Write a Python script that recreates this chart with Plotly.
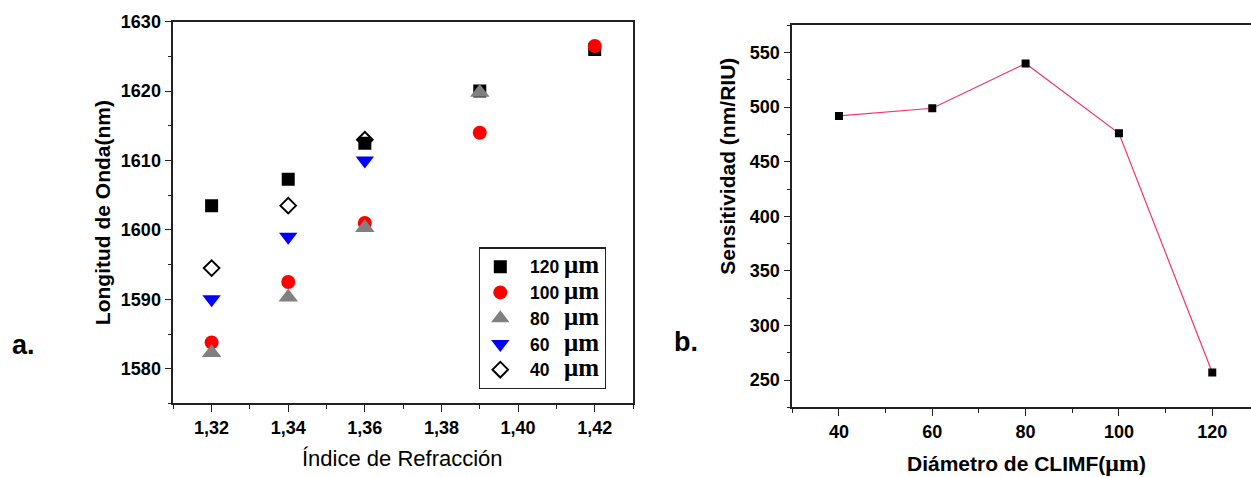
import plotly.graph_objects as go

# ---------------- data (panel a) ----------------
indice = [1.32, 1.34, 1.36, 1.39, 1.42]
onda_120 = [1603.5, 1607.3, 1612.5, 1620.0, 1626.0]
onda_100 = [1583.8, 1592.5, 1601.0, 1614.0, 1626.5]
onda_80_x = [1.32, 1.34, 1.36, 1.39]
onda_80 = [1582.3, 1590.3, 1600.3, 1619.8]
onda_60_x = [1.32, 1.34, 1.36]
onda_60 = [1590.0, 1599.0, 1610.0]
onda_40_x = [1.32, 1.34, 1.36]
onda_40 = [1594.5, 1603.5, 1613.0]

# ---------------- data (panel b) ----------------
diametro = [40, 60, 80, 100, 120]
sensitividad = [492, 499, 540, 476, 257]

SANS = "Liberation Sans"
MU = "<span style='font-family:Liberation Serif;font-size:25px'>\u03bcm</span>"
MU_T = "<span style='font-family:Liberation Serif;font-size:24px'>\u03bcm</span>"
AX = "#222222"
P = "\u00a0\u00a0"

# page geometry helpers (plot area in the photographed page starts ~9 px from top)
T0, H0 = 9.0, 468.0
def fy(py):
    return 1 - (py - T0) / H0
def fx(px):
    return px / 1251.0

fig = go.Figure()

series = [
    (indice, onda_120, P + "120\u00a0" + MU, "square", "black", 13),
    (indice, onda_100, P + "100\u00a0" + MU, "circle", "#ff0000", 14),
    (onda_80_x, onda_80, P + "80\u00a0\u00a0\u00a0" + MU, "triangle-up", "#808080", 17),
    (onda_60_x, onda_60, P + "60\u00a0\u00a0\u00a0" + MU, "triangle-down", "#0000ff", 16),
]
for i, (xs, ys, name, sym, col, sz) in enumerate(series):
    fig.add_trace(go.Scatter(
        x=xs, y=ys, mode="markers", name=name, legendgroup=f"g{i}",
        marker=dict(symbol=sym, color=col, size=sz, line=dict(width=0)),
        xaxis="x", yaxis="y"))
fig.add_trace(go.Scatter(
    x=onda_40_x, y=onda_40, mode="markers", name=P + "40\u00a0\u00a0\u00a0" + MU, legendgroup="g4",
    marker=dict(symbol="diamond-open", color="black", size=12, line=dict(width=2, color="black")),
    xaxis="x", yaxis="y"))

fig.add_trace(go.Scatter(
    x=diametro, y=sensitividad, mode="lines+markers", showlegend=False,
    line=dict(color="#f5336b", width=1.2),
    marker=dict(symbol="square", color="black", size=8),
    xaxis="x2", yaxis="y2"))

tickfont = dict(family=SANS, size=18, color="black", weight="bold")
common = dict(showline=True, linecolor=AX, linewidth=1.6, ticks="outside", ticklen=7,
              tickwidth=1.3, tickcolor=AX, showgrid=False, zeroline=False, tickfont=tickfont)

fig.update_layout(
    width=1251, height=477, margin=dict(l=0, r=0, t=0, b=0),
    paper_bgcolor="white", plot_bgcolor="white",
    separators=",.",
    xaxis=dict(domain=[fx(173.3), fx(633.0)], range=[1.31, 1.43], tick0=1.32, dtick=0.02,
               tickformat=".2f", mirror=True, anchor="y",
               minor=dict(ticks="outside", dtick=0.01, tick0=1.31, ticklen=4, tickcolor=AX), **common),
    yaxis=dict(domain=[fy(403.3), fy(20.7)], range=[1575, 1630], tick0=1580, dtick=10,
               tickformat="d", mirror=True, anchor="x",
               minor=dict(ticks="outside", dtick=5, tick0=1575, ticklen=4, tickcolor=AX), **common),
    xaxis2=dict(domain=[fx(792.3), 1.0], range=[30, 128.3], tick0=40, dtick=20, mirror=True, anchor="y2",
                minor=dict(ticks="outside", dtick=10, tick0=30, ticklen=4, tickcolor=AX), **common),
    yaxis2=dict(domain=[fy(407.3), fy(24.3)], range=[225, 575], tick0=250, dtick=50, mirror=False, anchor="x2",
                minor=dict(ticks="outside", dtick=25, tick0=225, ticklen=4, tickcolor=AX), **common),
    legend=dict(x=fx(479), y=fy(247), xanchor="left", yanchor="top",
                bordercolor="#222222", borderwidth=1.3, bgcolor="white",
                font=dict(family=SANS, size=17.5, color="black", weight="bold"),
                tracegroupgap=0, itemsizing="trace"),
    showlegend=True,
)

ann = [
    dict(text="Longitud de Onda(nm)", x=fx(102.6), y=fy(212), textangle=-90,
         font=dict(family=SANS, size=21, color="black", weight="bold")),
    dict(text="\u00cdndice de Refracci\u00f3n", x=fx(402), y=fy(458),
         font=dict(family=SANS, size=22, color="black")),
    dict(text="Sensitividad (nm/RIU)", x=fx(728), y=fy(166), textangle=-90,
         font=dict(family=SANS, size=21, color="black", weight="bold")),
    dict(text="Di\u00e1metro de CLIMF(" + MU_T + ")", x=fx(1026), y=fy(463),
         font=dict(family=SANS, size=21, color="black", weight="bold")),
    dict(text="a.", x=fx(23), y=fy(344.5),
         font=dict(family=SANS, size=27, color="black", weight="bold")),
    dict(text="b.", x=fx(686), y=fy(342),
         font=dict(family=SANS, size=27, color="black", weight="bold")),
]
for a in ann:
    fig.add_annotation(xref="paper", yref="paper", showarrow=False,
                       xanchor="center", yanchor="middle", **a)

fig.write_html("out.html")
